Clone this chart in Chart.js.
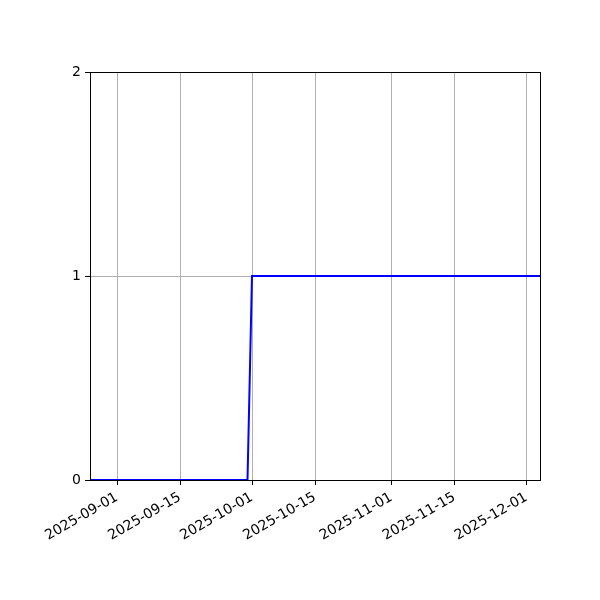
<!DOCTYPE html>
<html>
<head>
<meta charset="utf-8">
<script src="https://cdn.jsdelivr.net/npm/chart.js@4"></script>
<style>
  html, body { margin: 0; padding: 0; background: #fff; }
  #c { display: block; }
</style>
</head>
<body>
<canvas id="c" width="600" height="600"></canvas>
<script>
// step series: 0 until end of september, 1 from october on
const dates = ['2025-08-26', '2025-09-30', '2025-10-01', '2025-12-04'];
const values = [0, 0, 1, 1];
const xTickLabels = ['2025-09-01', '2025-09-15', '2025-10-01', '2025-10-15', '2025-11-01', '2025-11-15', '2025-12-01'];
const yTicks = [0, 1, 2];

const DAY = 86400000;
function toDay(s) { return Date.parse(s + 'T00:00:00Z') / DAY; }

let points = dates.map((d, i) => ({ x: toDay(d), y: values[i] }));
let tickMap = {};
xTickLabels.forEach(l => { tickMap[toDay(l)] = l; });

const frame = {
    id: 'frame',
    afterDraw(chart) {
        let a = chart.chartArea, ctx = chart.ctx;
        ctx.save();
        ctx.strokeStyle = '#000';
        ctx.lineWidth = 1;
        ctx.strokeRect(Math.round(a.left) + 0.5, Math.round(a.top) + 0.5,
            Math.round(a.right - a.left), Math.round(a.bottom - a.top));
        ctx.restore();
    }
};

new Chart(document.getElementById('c').getContext('2d'), {
    type: 'line',
    data: {
        datasets: [{
            data: points,
            borderColor: '#0000ff',
            borderWidth: 2,
            pointRadius: 0,
            tension: 0,
            fill: false
        }]
    },
    options: {
        responsive: false,
        animation: false,
        layout: { padding: { left: 60, right: 60, top: 72, bottom: 0 } },
        plugins: { legend: { display: false }, tooltip: { enabled: false } },
        scales: {
            x: {
                type: 'linear',
                min: toDay(dates[0]),
                max: toDay(dates[dates.length - 1]),
                afterBuildTicks(scale) {
                    scale.ticks = xTickLabels.map(l => ({ value: toDay(l) }));
                },
                afterFit(scale) {
                    scale.height = 120;
                    scale.paddingLeft = 0;
                    scale.paddingRight = 0;
                },
                grid: { color: '#b0b0b0', lineWidth: 1, tickColor: '#000', tickLength: 5 },
                border: { display: true, color: '#000', width: 1 },
                ticks: {
                    autoSkip: false,
                    minRotation: 30,
                    maxRotation: 30,
                    padding: 4,
                    color: '#000',
                    font: { family: 'DejaVu Sans', size: 14 },
                    callback: v => tickMap[v] || ''
                }
            },
            y: {
                min: yTicks[0],
                max: yTicks[yTicks.length - 1],
                afterBuildTicks(scale) {
                    scale.ticks = yTicks.map(v => ({ value: v }));
                },
                afterFit(scale) { scale.width = 30; },
                grid: { color: '#b0b0b0', lineWidth: 1, tickColor: '#000', tickLength: 5 },
                border: { display: true, color: '#000', width: 1 },
                ticks: {
                    padding: 4,
                    color: '#000',
                    font: { family: 'DejaVu Sans', size: 14 },
                    callback: v => String(v)
                }
            }
        }
    },
    plugins: [frame]
});
</script>
</body>
</html>
